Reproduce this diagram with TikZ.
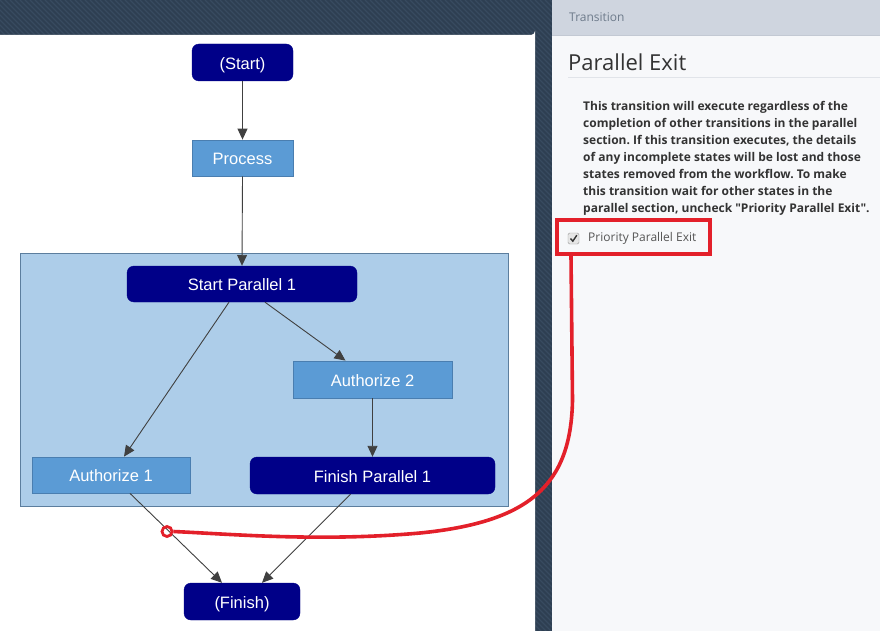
\documentclass[tikz,border=0pt]{standalone}
\usepackage{fontspec}
\setmainfont{Liberation Sans}
\newfontfamily\panelfont{Open Sans}
\usetikzlibrary{arrows.meta}
\frenchspacing
\definecolor{navybox}{HTML}{000088}
\definecolor{procfill}{HTML}{5B9BD5}
\definecolor{procline}{HTML}{4A7EB0}
\definecolor{parfill}{HTML}{ADCDE9}
\definecolor{parline}{HTML}{5C7E9E}
\definecolor{bgdark}{HTML}{2E3F52}
\definecolor{bgstripe}{HTML}{384B60}
\definecolor{panelbg}{HTML}{F7F8FA}
\definecolor{headbg}{HTML}{CFD5DF}
\definecolor{headline}{HTML}{C3C9D3}
\definecolor{titleline}{HTML}{E1E4E9}
\definecolor{headtext}{HTML}{6E7B8B}
\definecolor{arrowcol}{HTML}{404040}
\definecolor{markred}{HTML}{E3202A}
\definecolor{bodytext}{HTML}{333333}
\definecolor{cbline}{HTML}{9A9A9A}
\definecolor{cbfill}{HTML}{E6E6E6}
\definecolor{labeltext}{HTML}{555555}
\tikzset{
  darkbox/.style={rectangle, rounded corners=7pt, fill=navybox, draw=navybox, text=white, inner sep=0pt, text height=13.5pt, text depth=0pt, font=\fontsize{16.5}{19}\selectfont},
  lightbox/.style={rectangle, fill=procfill, draw=procline, line width=0.8pt, text=white, inner sep=0pt, text height=13.5pt, text depth=0pt, font=\fontsize{16.5}{19}\selectfont},
  arr/.style={draw=arrowcol, line width=0.9pt, -{Triangle[length=11pt,width=10pt]}},
  redmark/.style={draw=markred, line width=3.6pt},
}
\begin{document}
\begin{tikzpicture}[x=1pt,y=-1pt]
\useasboundingbox (0,0) rectangle (880,631);
% striped dark background
\fill[bgdark] (0,0) rectangle (880,631);
\begin{scope}
\clip (0,0) rectangle (880,631);
\foreach \i in {-640,-635,...,880} {
  \draw[bgstripe, line width=1.3pt] (\i,0) -- ++(640,640);
}
\end{scope}
% white canvas
\fill[white] (0,35) -- (531,35) arc[start angle=90, end angle=0, radius=4] -- (535,631) -- (0,631) -- cycle;
% right panel
\fill[panelbg] (552,0) rectangle (880,631);
\fill[headbg] (552,0) rectangle (880,35);
\draw[headline, line width=1pt] (552,35.5) -- (880,35.5);
\node[anchor=west, text=headtext, font=\panelfont\fontsize{12}{14}\selectfont, inner sep=0pt] (hdr) at (569,17.5) {Transition};
\node[anchor=west, text=bodytext, font=\panelfont\fontsize{22}{26}\selectfont, inner sep=0pt] (title) at (568,62.5) {Parallel Exit};
\draw[titleline, line width=1pt] (568,77.5) -- (880,77.5);
\node[anchor=north west, text=bodytext, align=left, inner sep=0pt,
      font=\panelfont\bfseries\fontsize{12}{17}\selectfont] (para) at (583,101.5)
 {This transition will execute regardless of the\\
  completion of other transitions in the parallel\\
  section. If this transition executes, the details\\
  of any incomplete states will be lost and those\\
  states removed from the workflow. To make\\
  this transition wait for other states in the\\
  parallel section, uncheck "Priority Parallel Exit".};
% checkbox
\node[draw=cbline, fill=cbfill, rounded corners=1.5pt, minimum size=11pt, inner sep=0pt] (cb) at (573.5,238.5) {};
\draw[bodytext, line width=1.4pt] (570.5,238.5) -- (572.8,241.2) -- (576.8,235.2);
\node[anchor=west, text=labeltext, font=\panelfont\fontsize{12}{14}\selectfont, inner sep=0pt] (cbl) at (588,238.5) {Priority Parallel Exit};
% parallel container
\node[rectangle, fill=parfill, draw=parline, line width=0.8pt, minimum width=488pt, minimum height=253pt, inner sep=0pt] (par) at (264,379.5) {};
% nodes
\node[darkbox, minimum width=101pt, minimum height=37pt] (start) at (242.5,62.5) {(Start)};
\node[lightbox, minimum width=101pt, minimum height=36pt] (proc) at (242.5,158) {Process};
\node[darkbox, minimum width=230pt, minimum height=36pt] (sp) at (242,284) {Start Parallel 1};
\node[lightbox, minimum width=159pt, minimum height=37pt] (a2) at (372.5,379.5) {Authorize 2};
\node[lightbox, minimum width=158pt, minimum height=36pt] (a1) at (111,475) {Authorize 1};
\node[darkbox, minimum width=245pt, minimum height=37pt] (fp) at (372.5,475.5) {Finish Parallel 1};
\node[darkbox, minimum width=116pt, minimum height=37pt] (fin) at (242,601.5) {(Finish)};
% connectors
\draw[arr] (start.south) -- (proc.north);
\draw[arr] (proc.south) -- (sp.north);
\draw[arr] ([xshift=-13pt]sp.south) -- ([xshift=13pt]a1.north);
\draw[arr] ([xshift=23pt]sp.south) -- ([xshift=-27pt]a2.north);
\draw[arr] (a2.south) -- (fp.north);
\draw[arr] ([xshift=19pt]a1.south) -- ([xshift=-20pt]fin.north);
\draw[arr] ([xshift=-22pt]fp.south) -- ([xshift=20pt]fin.north);
% red highlight
\node[redmark, line width=4pt, rectangle, minimum width=153pt, minimum height=34pt, inner sep=0pt] (rb) at (633.5,237) {};
\node[circle, draw=markred, line width=2.8pt, minimum size=10pt, inner sep=0pt] (pin) at (167,531.5) {};
\draw[redmark] ([xshift=16pt]rb.south west) -- (572.5,400) .. controls (571,485) and (530,522) .. (420,533) .. controls (320,542) and (230,534) .. (pin.east);
\end{tikzpicture}
\end{document}
